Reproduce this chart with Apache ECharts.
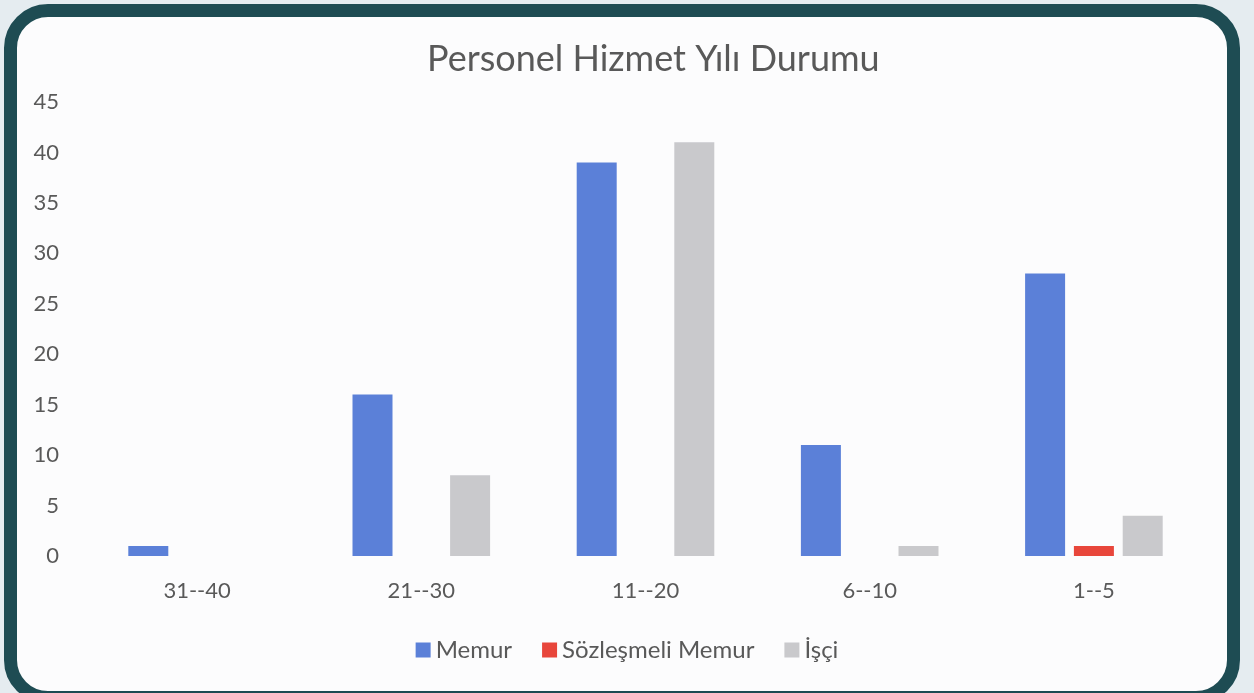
<!DOCTYPE html>
<html>
<head>
<meta charset="utf-8">
<script src="https://cdn.jsdelivr.net/npm/echarts@6/dist/echarts.min.js"></script>
<style>
  html, body { margin: 0; padding: 0; background: #e5ecf0; }
  #frame {
    position: absolute; left: 4px; top: 4px; width: 1236px; height: 700px;
    box-sizing: border-box; border: 13px solid #1e4c53; border-radius: 44px;
    background: #fcfcfd;
  }
  #chart { position: absolute; left: 0; top: 0; width: 1254px; height: 693px; }
</style>
</head>
<body>
<div id="frame"></div>
<div id="chart"></div>
<script>
// hizmet yılı grupları
const categories = ['31--40', '21--30', '11--20', '6--10', '1--5'];
const memur = [1, 16, 39, 11, 28];
const sozlesmeli = [0, 0, 0, 0, 1];
const isci = [0, 8, 41, 1, 4];

const textColor = '#595959';
const font = 'Lato';

const chart = echarts.init(document.getElementById('chart'));

function barSeries(name, data, color) {
  return {
    name: name,
    type: 'bar',
    data: data,
    barWidth: 40,
    barGap: '22%',
    itemStyle: { color: color },
  };
}

chart.setOption({
  backgroundColor: 'transparent',
  animation: false,
  title: {
    text: 'Personel Hizmet Yılı Durumu',
    left: 422,
    top: 36,
    textStyle: { color: textColor, fontSize: 36, fontWeight: 'normal', fontFamily: font },
  },
  legend: {
    top: 633,
    left: 'center',
    itemWidth: 15,
    itemHeight: 15,
    itemGap: 30,
    icon: 'rect',
    textStyle: { color: textColor, fontSize: 24, fontFamily: font },
    data: ['Memur', 'Sözleşmeli Memur', 'İşçi'],
  },
  grid: { left: 85, right: 48, top: 102, bottom: 137 },
  xAxis: {
    type: 'category',
    data: categories,
    axisLine: { show: false },
    axisTick: { show: false },
    axisLabel: { color: textColor, fontSize: 22, fontFamily: font, margin: 24 },
  },
  yAxis: {
    type: 'value',
    min: 0,
    max: 45,
    interval: 5,
    splitLine: { show: false },
    axisLine: { show: false },
    axisTick: { show: false },
    axisLabel: { color: textColor, fontSize: 22, fontFamily: font, margin: 26 },
  },
  series: [
    barSeries('Memur', memur, '#5b80d8'),
    barSeries('Sözleşmeli Memur', sozlesmeli, '#e8463b'),
    barSeries('İşçi', isci, '#c9c9cc'),
  ],
});
</script>
</body>
</html>
